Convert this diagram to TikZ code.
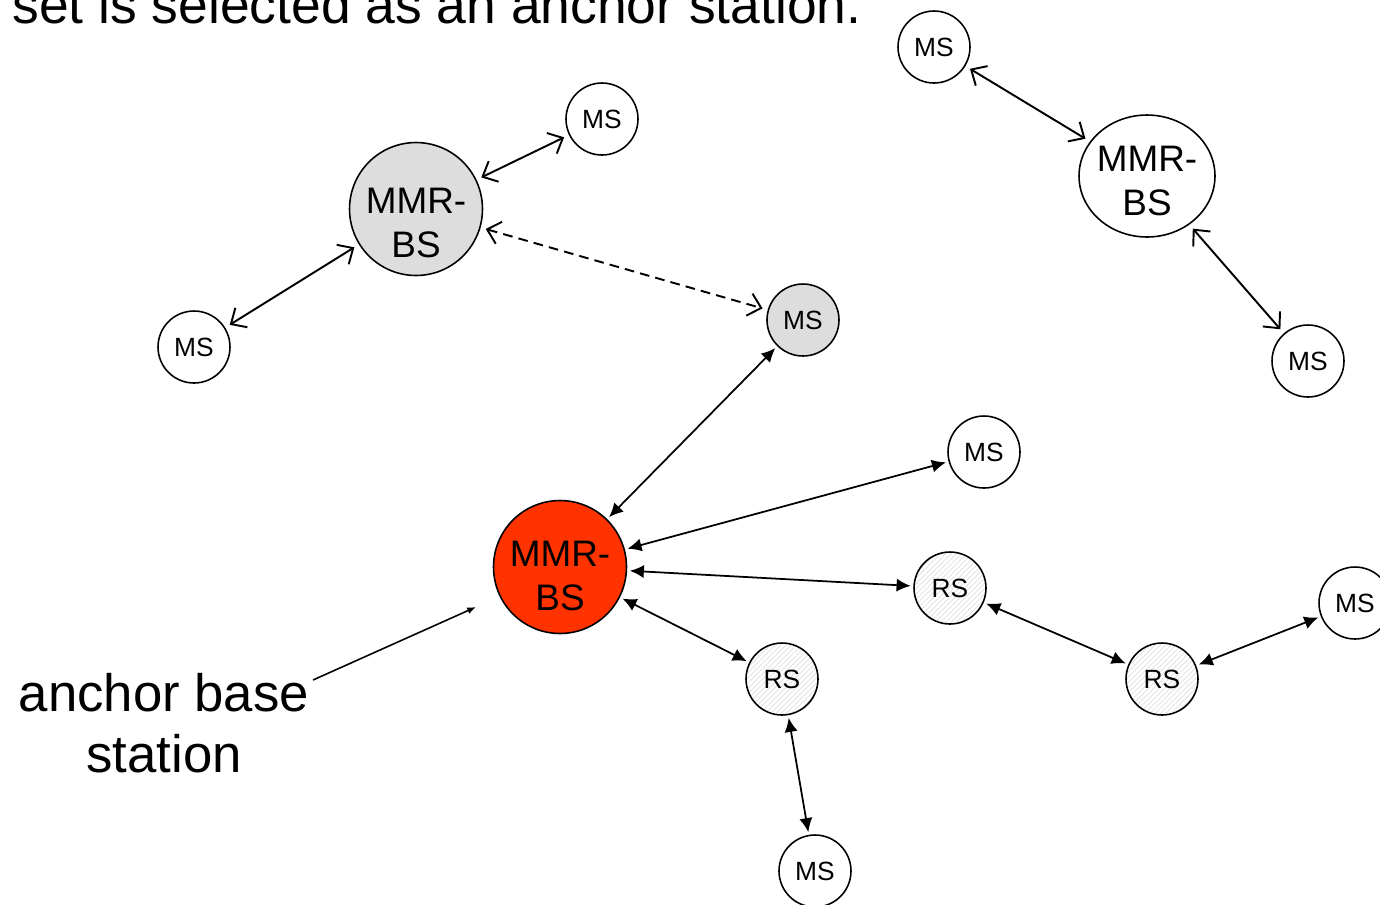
\documentclass[tikz,border=0pt]{standalone}
\usepackage{fontspec}
\setmainfont{Liberation Sans}
\usetikzlibrary{arrows.meta, positioning, shapes.geometric, patterns}
\definecolor{anchorred}{HTML}{FF3300}
\definecolor{bsgray}{HTML}{DDDDDD}

\begin{document}
\begin{tikzpicture}[x=0.02cm, y=-0.02cm]
		\tikzstyle{MSNode} = [circle, minimum size=1.44cm, inner sep=0pt, text centered, draw=black, line width=0.9pt, font=\fontsize{15}{18}\selectfont]
		\tikzstyle{RSNode} = [MSNode, pattern=north east lines, pattern color=gray!25]
		\tikzstyle{BSNode} = [circle, minimum size=2.66cm, inner sep=-12pt, align=center, text height=50pt, draw=black, line width=0.9pt, font=\fontsize{21}{25}\selectfont]
		\tikzstyle{arrow} = [line width=1pt, {Latex[length=8pt, width=7.5pt]}-{Latex[length=8pt, width=7.5pt]}, shorten <=1.5pt, shorten >=1.5pt]
		\tikzstyle{openarrow} = [line width=1.1pt, {Straight Barb[length=7pt, width=13pt]}-{Straight Barb[length=7pt, width=13pt]}, shorten <=3pt, shorten >=3pt]
		\tikzstyle{pointer} = [line width=0.9pt, -{Latex[length=5pt, width=4pt]}]
		\useasboundingbox (0,0) rectangle (1380,904);

		\node (caption) [anchor=base west, inner sep=0pt, font=\fontsize{30.4}{35}\selectfont] at (12,23) {set is selected as an anchor station.};

		\node (ms1) [MSNode] at (934,47) {MS};
		\node (bs1) [BSNode, ellipse, minimum width=2.72cm, minimum height=2.44cm, text height=45pt] at (1147,176) {MMR-\\BS};
		\node (ms2) [MSNode] at (1308,361) {MS};
		\node (ms3) [MSNode] at (602,119) {MS};
		\node (bs2) [BSNode, fill=bsgray, text height=55pt] at (416,209) {MMR-\\BS};
		\node (ms4) [MSNode] at (194,347) {MS};
		\node (ms5) [MSNode, fill=bsgray] at (803,320) {MS};
		\node (ms6) [MSNode] at (984,452) {MS};
		\node (bs3) [BSNode, fill=anchorred] at (560,567) {MMR-\\BS};
		\node (rs1) [RSNode] at (950,588) {RS};
		\node (rs2) [RSNode] at (782,679) {RS};
		\node (rs3) [RSNode] at (1162,679) {RS};
		\node (ms7) [MSNode] at (1355,603) {MS};
		\node (ms8) [MSNode] at (815,871) {MS};

		\draw [openarrow] (ms1) -- (bs1);
		\draw [openarrow] (bs1) -- (ms2);
		\draw [openarrow] (ms3) -- (bs2);
		\draw [openarrow] (bs2) -- (ms4);
		\draw [openarrow, dash pattern=on 5.5pt off 3.5pt] (bs2) -- (ms5);
		\draw [arrow] (bs3) -- (ms5);
		\draw [arrow] (bs3) -- (ms6);
		\draw [arrow] (bs3) -- (rs1);
		\draw [arrow] (bs3) -- (rs2);
		\draw [arrow] (rs2) -- (ms8);
		\draw [arrow] (rs1) -- (rs3);
		\draw [arrow] (rs3) -- (ms7);

		% label for the anchor station
		\node (anchortext) [align=center, font=\fontsize{30}{35}\selectfont] at (164,723) {anchor base\\station};
		\coordinate (pointfrom) at (313,680);
		\coordinate (pointto) at (476,607);
		\draw [pointer] (pointfrom) -- (pointto);
\end{tikzpicture}
\end{document}
